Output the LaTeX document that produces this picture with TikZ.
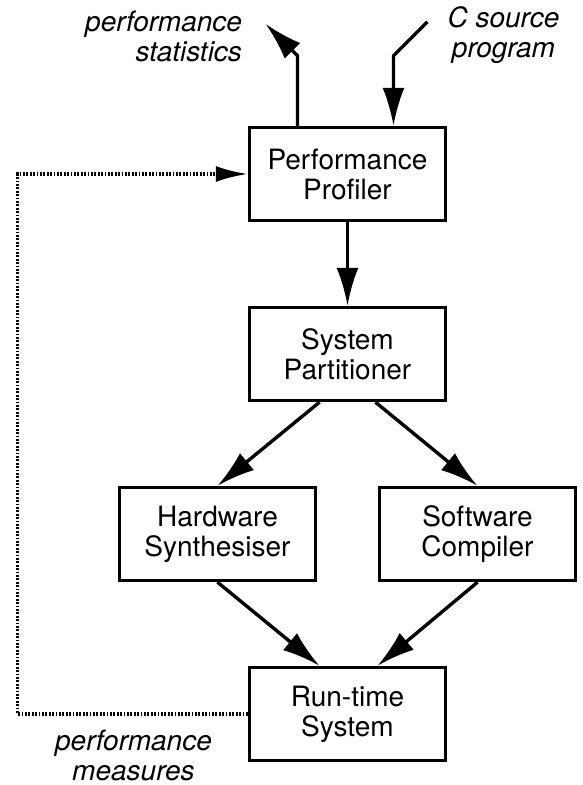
\documentclass[tikz,border=0pt]{standalone}
\usepackage{fontspec}
\setmainfont{TeX Gyre Heros}
\usetikzlibrary{arrows.meta,positioning}
\tikzset{%
	>={Latex[width=22pt,length=38pt]},
	% Specifications for style of nodes:
	base/.style = {rectangle, draw=black, line width=3.4pt,
		minimum width=196pt, minimum height=93pt,
		text centered, font=\fontsize{28}{30}\selectfont},
	stage/.style = {base, align=center},
	note/.style = {font=\fontsize{28}{30}\selectfont\itshape},
	flow/.style = {->, line width=3.4pt, line join=round},
	feedback/.style = {-{Latex[width=16pt,length=32pt]}, line width=3.2pt,
		dash pattern=on 1.8pt off 1.6pt},
}
\begin{document}
\begin{tikzpicture}[node distance=180pt]
	\useasboundingbox (-347.5pt,174pt) rectangle (235.5pt,-611pt);
	
	% Specification of nodes (position, etc.)
	\node (profiler)    [stage]                                    {Performance\\Profiler};
	\node (partitioner) [stage, below of=profiler]                 {System\\Partitioner};
	\node (hardware)    [stage, below of=partitioner, xshift=-130pt] {Hardware\\Synthesiser};
	\node (software)    [stage, below of=partitioner, xshift=130pt]  {Software\\Compiler};
	\node (runtime)     [stage, below of=hardware, xshift=130pt]     {Run-time\\System};
	
	% labels
	\node (statsText)    [note, align=right, anchor=east] at (-102pt,138pt) {performance\\statistics};
	\node (sourceText)   [note, align=center] at (156pt,139pt)  {C source\\program};
	\node (measuresText) [note, align=center] at (-214pt,-581pt) {performance\\measures};
	
	\coordinate (statsBend)   at ([xshift=-50pt,yshift=70pt]profiler.north);
	\coordinate (statsEnd)    at ([shift={(-32pt,32pt)}]statsBend);
	\coordinate (sourceBend)  at ([xshift=46pt,yshift=70pt]profiler.north);
	\coordinate (sourceStart) at ([shift={(34pt,34pt)}]sourceBend);
	\coordinate (loopCorner)  at ([xshift=-230pt]runtime.west);
	
	\draw[flow] ([xshift=-50pt]profiler.north) -- (statsBend) -- (statsEnd);
	\draw[flow] (sourceStart) -- (sourceBend) -- ([xshift=46pt]profiler.north);
	
	\draw[flow] (profiler) -- (partitioner);
	\draw[flow] ([xshift=-28pt]partitioner.south) -- (hardware.north);
	\draw[flow] ([xshift=28pt]partitioner.south) -- (software.north);
	\draw[flow] (hardware.south) -- ([xshift=-28pt]runtime.north);
	\draw[flow] (software.south) -- ([xshift=30pt]runtime.north);
	
	\draw[feedback] (runtime.west) -- (loopCorner) |- (profiler.west);
	
\end{tikzpicture}
\end{document}
